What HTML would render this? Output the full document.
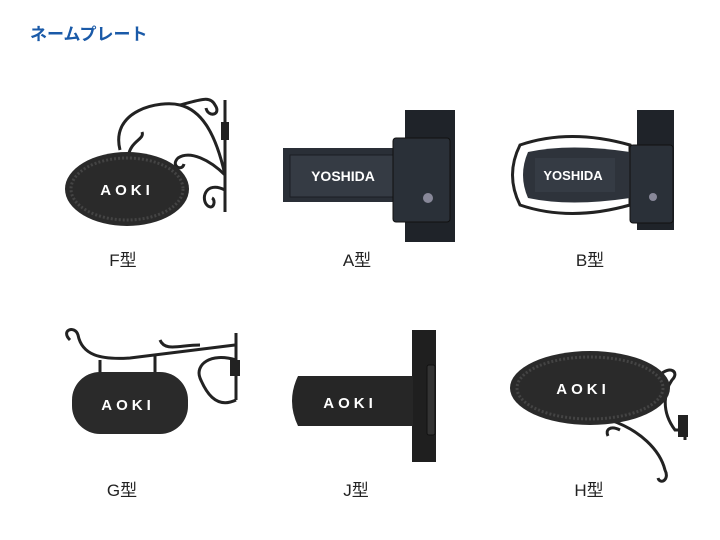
<!DOCTYPE html>
<html><head><meta charset="utf-8"><style>
body{margin:0;width:720px;height:540px;background:#fff;overflow:hidden}
svg{display:block}
</style></head><body>
<svg width="720" height="540" viewBox="0 0 720 540" xmlns="http://www.w3.org/2000/svg">
<text x="30" y="40" font-family="Liberation Sans, Noto Sans CJK JP, sans-serif" font-weight="bold" font-size="17" fill="#1a5aa8">ネームプレート</text>

<!-- F -->
<g stroke="#222" stroke-width="3" fill="none">
<path d="M225 100 L225 212"/>
<path d="M120 150 C110 110 160 100 180 105 C200 110 215 130 225 175"/>
<path d="M180 105 C200 100 210 95 215 105 C222 115 208 118 206 108"/>
<path d="M225 175 C210 160 190 150 178 158 C170 166 182 172 184 164"/>
<path d="M225 190 C205 180 200 200 208 206 C214 210 216 200 212 198"/>
<path d="M128 158 C130 140 145 140 142 132"/>
</g>
<rect x="221" y="122" width="8" height="18" fill="#222"/>
<ellipse cx="127" cy="189" rx="62" ry="37" fill="#2a2a2a"/>
<ellipse cx="127" cy="189" rx="56" ry="31" fill="none" stroke="#444" stroke-width="3" stroke-dasharray="2 2"/>
<text x="127" y="195" text-anchor="middle" font-family="Liberation Sans, sans-serif" font-weight="bold" font-size="15" letter-spacing="4" fill="#fff">AOKI</text>

<!-- A -->
<rect x="405" y="110" width="50" height="132" fill="#1f2329"/>
<rect x="283" y="148" width="117" height="54" fill="#2a2f37"/>
<rect x="290" y="155" width="105" height="42" fill="#353b44" stroke="#1b1e23"/>
<text x="343" y="181" text-anchor="middle" font-family="Liberation Sans, sans-serif" font-weight="bold" font-size="14" fill="#fff">YOSHIDA</text>
<rect x="393" y="138" width="57" height="84" rx="3" fill="#2a3038" stroke="#111"/>
<circle cx="428" cy="198" r="5" fill="#889"/>

<!-- B -->
<rect x="637" y="110" width="37" height="120" fill="#1f2329"/>
<path d="M520 145 Q570 128 630 145 L630 205 Q570 222 520 205 Q505 175 520 145Z" fill="none" stroke="#222" stroke-width="3"/>
<path d="M528 152 Q570 143 630 152 L630 198 Q570 207 528 198 Q518 175 528 152Z" fill="#2e333b"/>
<rect x="535" y="158" width="80" height="34" fill="#353b44"/>
<text x="573" y="180" text-anchor="middle" font-family="Liberation Sans, sans-serif" font-weight="bold" font-size="13" fill="#fff">YOSHIDA</text>
<rect x="630" y="145" width="43" height="78" rx="3" fill="#2a3038" stroke="#111"/>
<circle cx="653" cy="197" r="4" fill="#889"/>

<!-- G -->
<g stroke="#222" stroke-width="3" fill="none">
<path d="M70 340 C60 330 75 325 78 335 C82 355 100 360 130 358 L235 345"/>
<path d="M236 333 L236 400"/>
<path d="M200 345 C180 345 165 352 160 340"/>
<path d="M236 360 C210 352 195 365 200 378 C205 390 215 410 236 400"/>
<path d="M100 360 L100 375 M155 356 L155 373"/>
</g>
<rect x="230" y="360" width="10" height="16" fill="#222"/>
<rect x="72" y="372" width="116" height="62" rx="28" fill="#2a2a2a"/>
<text x="128" y="410" text-anchor="middle" font-family="Liberation Sans, sans-serif" font-weight="bold" font-size="15" letter-spacing="4" fill="#fff">AOKI</text>

<!-- J -->
<rect x="412" y="330" width="24" height="132" fill="#1f1f1f"/>
<rect x="427" y="365" width="8" height="70" rx="2" fill="#333" stroke="#111"/>
<path d="M298 376 L413 376 L413 426 L298 426 Q286 401 298 376Z" fill="#262626"/>
<text x="350" y="408" text-anchor="middle" font-family="Liberation Sans, sans-serif" font-weight="bold" font-size="15" letter-spacing="4" fill="#fff">AOKI</text>

<!-- H -->
<g stroke="#222" stroke-width="3" fill="none">
<path d="M610 420 C640 430 660 450 665 470 C670 480 660 485 658 478"/>
<path d="M660 375 C670 365 680 372 672 380 C665 390 660 410 675 430 L685 430"/>
<path d="M620 430 C610 425 605 430 608 436"/>
<path d="M685 415 L685 440"/>
</g>
<rect x="678" y="415" width="10" height="22" fill="#222"/>
<ellipse cx="590" cy="388" rx="80" ry="37" fill="#2a2a2a"/>
<ellipse cx="590" cy="388" rx="73" ry="31" fill="none" stroke="#444" stroke-width="3" stroke-dasharray="2 2"/>
<text x="583" y="394" text-anchor="middle" font-family="Liberation Sans, sans-serif" font-weight="bold" font-size="15" letter-spacing="4" fill="#fff">AOKI</text>

<g font-family="Liberation Sans, Noto Sans CJK JP, sans-serif" font-size="17" fill="#222" text-anchor="middle">
<text x="123" y="266">F型</text>
<text x="357" y="266">A型</text>
<text x="590" y="266">B型</text>
<text x="122" y="496">G型</text>
<text x="356" y="496">J型</text>
<text x="589" y="496">H型</text>
</g>
</svg>
</body></html>
